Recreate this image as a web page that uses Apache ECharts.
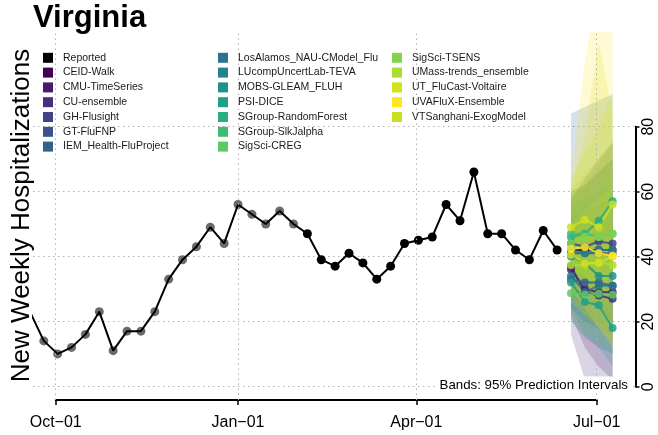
<!DOCTYPE html>
<html><head><meta charset="utf-8">
<script src="https://cdn.jsdelivr.net/npm/echarts@6/dist/echarts.min.js"></script>
<style>html,body{margin:0;padding:0;background:#fff}#c{width:658px;height:435px}</style>
</head><body><div id="c"></div>
<script>
// ---------------- DATA ----------------
const reportedDates = ['2021-09-18','2021-09-25','2021-10-02','2021-10-09','2021-10-16','2021-10-23','2021-10-30',
  '2021-11-06','2021-11-13','2021-11-20','2021-11-27','2021-12-04','2021-12-11','2021-12-18','2021-12-25',
  '2022-01-01','2022-01-08','2022-01-15','2022-01-22','2022-01-29','2022-02-05','2022-02-12','2022-02-19','2022-02-26',
  '2022-03-05','2022-03-12','2022-03-19','2022-03-26','2022-04-02','2022-04-09','2022-04-16','2022-04-23','2022-04-30',
  '2022-05-07','2022-05-14','2022-05-21','2022-05-28','2022-06-04','2022-06-11'];
const reportedValues = [23,14,10,12,16,23,11,17,17,23,33,39,43,49,44,56,53,50,54,50,47,39,37,41,38,33,37,44,45,46,56,51,66,47,47,42,39,48,42];
const fadedUntil = '2022-01-29';

const forecastDates = ['2022-06-18','2022-06-25','2022-07-02','2022-07-09'];
const modelNames = ['CEID-Walk','CMU-TimeSeries','CU-ensemble','GH-Flusight','GT-FluFNP','IEM_Health-FluProject',
  'LosAlamos_NAU-CModel_Flu','LUcompUncertLab-TEVA','MOBS-GLEAM_FLUH','PSI-DICE','SGroup-RandomForest','SGroup-SlkJalpha',
  'SigSci-CREG','SigSci-TSENS','UMass-trends_ensemble','UT_FluCast-Voltaire','UVAFluX-Ensemble','VTSanghani-ExogModel'];
const medianValues = [
  [42,42,42,42],[36,30,29,29],[37,29,28,27],[44,43,44.6,44],[41,41,41,41],[33,32,32,31],
  [34,29,31,31],[42,41,42,42],[40,38,34,34],[32,26,25,18],[46,47,51,57],[47,47,46,47],
  [28.7,28.2,28.5,28.2],[44,46,46,47],[37.4,37.4,38.2,37.4],[40.5,38,38,40],[42.3,42.9,41,40.2],[49,51.3,49,56]];
const lowerValues = [
  [28,22,18,14],[22,12,6,2],[16,2,0,0],[30,26,24,20],[30,28,26,24],[20,15,12,10],
  [24,20,18,16],[30,28,26,24],[28,24,20,18],[24,16,12,6],[36,34,36,38],[34,32,30,28],
  [20,16,14,10],[30,28,26,24],[26,22,18,14],[28,22,18,14],[30,24,18,12],[36,34,30,34]];
const upperValues = [
  [58,64,70,75],[52,50,52,56],[60,62,66,70],[58,62,66,70],[52,54,56,58],[84,86,88,90],
  [46,44,46,48],[56,58,60,62],[56,58,58,60],[40,38,38,32],[58,62,68,76],[60,62,62,68],
  [40,42,44,46],[60,66,70,74],[50,54,58,62],[60,78,106,84],[64,100,125,140],[64,72,80,90]];

const tickDates = ['2021-10-01','2022-01-01','2022-04-01','2022-07-01'];
const tickLabels = ['Oct\u221201','Jan\u221201','Apr\u221201','Jul\u221201'];

// ---------------- STYLE ----------------
const modelColors = ['#440154','#481a6c','#472f7d','#414487','#3b528b','#33638d',
  '#2c728e','#26828e','#21918c','#1fa088','#28ae80','#3fbc73',
  '#5ec962','#84d44b','#addc30','#d2e21b','#fde725','#c8e020'];
const FONT = '"Liberation Sans", Arial, Helvetica, sans-serif';
const DAY0 = Date.UTC(2021, 9, 1);
function dayNum(s){ const p = s.split('-').map(Number); return (Date.UTC(p[0], p[1]-1, p[2]) - DAY0) / 86400000; }
const tickDays = tickDates.map(dayNum);

const series = [];
series.push({
  type:'line', xAxisIndex:0, yAxisIndex:0, data:[], z:0, silent:true,
  markLine:{ silent:true, symbol:['none','none'], label:{show:false},
    lineStyle:{color:'#b0b0b0', type:[1.5,3.5], width:1},
    data: tickDays.map(d => ({xAxis:d})) }
});

modelNames.forEach((name, i) => {
  const rows = forecastDates.map((d, j) => [dayNum(d), lowerValues[i][j], upperValues[i][j]]);
  series.push({
    type:'custom', name, xAxisIndex:0, yAxisIndex:0, z:1, silent:true,
    itemStyle:{color:modelColors[i]},
    encode:{x:0, y:[1,2]},
    data: rows,
    renderItem: (params, api) => {
      if (params.dataIndex !== 0) return null;
      const top = rows.map(r => api.coord([r[0], r[2]]));
      const bot = rows.map(r => api.coord([r[0], r[1]])).reverse();
      const cs = params.coordSys;
      return { type:'polygon', shape:{points: top.concat(bot)},
        style:{fill: modelColors[i], opacity: 0.2},
        clipPath:{type:'rect', shape:{x:cs.x, y:cs.y, width:cs.width, height:cs.height}} };
    }
  });
});

series.push({
  type:'scatter', name:'Reported', xAxisIndex:0, yAxisIndex:0, z:3,
  symbolSize:9, itemStyle:{color:'#000', opacity:1},
  data: reportedDates.map((d, i) => {
    const o = {value:[dayNum(d), reportedValues[i]]};
    if (d <= fadedUntil) o.itemStyle = {color:'#6b6b6b'};
    return o;
  })
});
series.push({
  type:'line', name:'Reported', xAxisIndex:0, yAxisIndex:0, z:4, showSymbol:false, symbol:'none',
  lineStyle:{color:'#000', width:2}, itemStyle:{color:'#000'},
  data: reportedDates.map((d, i) => [dayNum(d), reportedValues[i]])
});

modelNames.forEach((name, i) => {
  series.push({
    type:'line', name, xAxisIndex:0, yAxisIndex:0, z:5,
    symbol:'circle', symbolSize:8, showSymbol:true,
    lineStyle:{color:modelColors[i], width:2, opacity:0.85},
    itemStyle:{color:modelColors[i], opacity:0.85},
    data: forecastDates.map((d, j) => [dayNum(d), medianValues[i][j]])
  });
});

const legendCommon = {
  orient:'vertical', icon:'rect', itemWidth:10, itemHeight:10, itemGap:3.8, selectedMode:false, padding:0,
  textStyle:{fontSize:10.5, color:'#1a1a1a', fontFamily:FONT, lineHeight:10, padding:[0,0,0,5]}
};
const legendCols = [['Reported'].concat(modelNames.slice(0,6)), modelNames.slice(6,13), modelNames.slice(13)];
const legendLeft = [43, 218, 392];

const chart = echarts.init(document.getElementById('c'), null, {renderer:'canvas'});
chart.setOption({
  animation:false,
  backgroundColor:'#fff',
  textStyle:{fontFamily:FONT},
  title:[
    {text:'Virginia', left:33, top:3, padding:0, textStyle:{fontSize:31, fontWeight:'bold', color:'#000', fontFamily:FONT}},
    {text:'Bands: 95% Prediction Intervals', right:28, top:376.5, padding:[2,2,1,4], backgroundColor:'#fff', z:10,
     textStyle:{fontSize:13.3, fontWeight:'normal', color:'#000', fontFamily:FONT}}
  ],
  legend: legendCols.map((cols, k) => Object.assign({}, legendCommon, {data:cols, left:legendLeft[k], top:52.3})),
  grid:[
    {left:33, right:23, top:31.7, bottom:35},
    {left:55.7, right:61.3, top:31.7, bottom:35},
    {left:33, right:22.5, top:126.7, bottom:48.3}
  ],
  xAxis:[
    {gridIndex:0, type:'value', min:-11.45, max:292.3, show:false},
    {gridIndex:1, type:'value', min:tickDays[0], max:tickDays[tickDays.length-1], position:'bottom',
      axisLine:{show:true, onZero:false, lineStyle:{color:'#000', width:2}},
      axisTick:{show:true, customValues:tickDays, length:5, lineStyle:{color:'#000', width:1.5}},
      axisLabel:{customValues:tickDays, formatter: v => tickLabels[tickDays.indexOf(v)], fontSize:16, color:'#000', margin:15, fontFamily:FONT},
      splitLine:{show:false}},
    {gridIndex:2, type:'value', min:0, max:1, show:false}
  ],
  yAxis:[
    {gridIndex:0, type:'value', min:-4.2, max:109.2, show:false},
    {gridIndex:1, type:'value', min:0, max:1, show:false},
    {gridIndex:2, type:'value', min:0, max:80, interval:20, position:'right',
      axisLine:{show:true, onZero:false, lineStyle:{color:'#000', width:2}},
      axisTick:{show:true, length:4, lineStyle:{color:'#000', width:1.5}},
      axisLabel:{rotate:90, fontSize:16, color:'#000', margin:5, fontFamily:FONT},
      splitLine:{show:true, lineStyle:{color:'#b0b0b0', type:[1.5,3.5], width:1}}}
  ],
  graphic:[
    {type:'text', x:22, y:215.5, rotation:Math.PI/2,
     style:{text:'New Weekly Hospitalizations', fontSize:26, fontFamily:FONT, fill:'#000', align:'center', verticalAlign:'middle'}}
  ],
  series
});
</script></body></html>
